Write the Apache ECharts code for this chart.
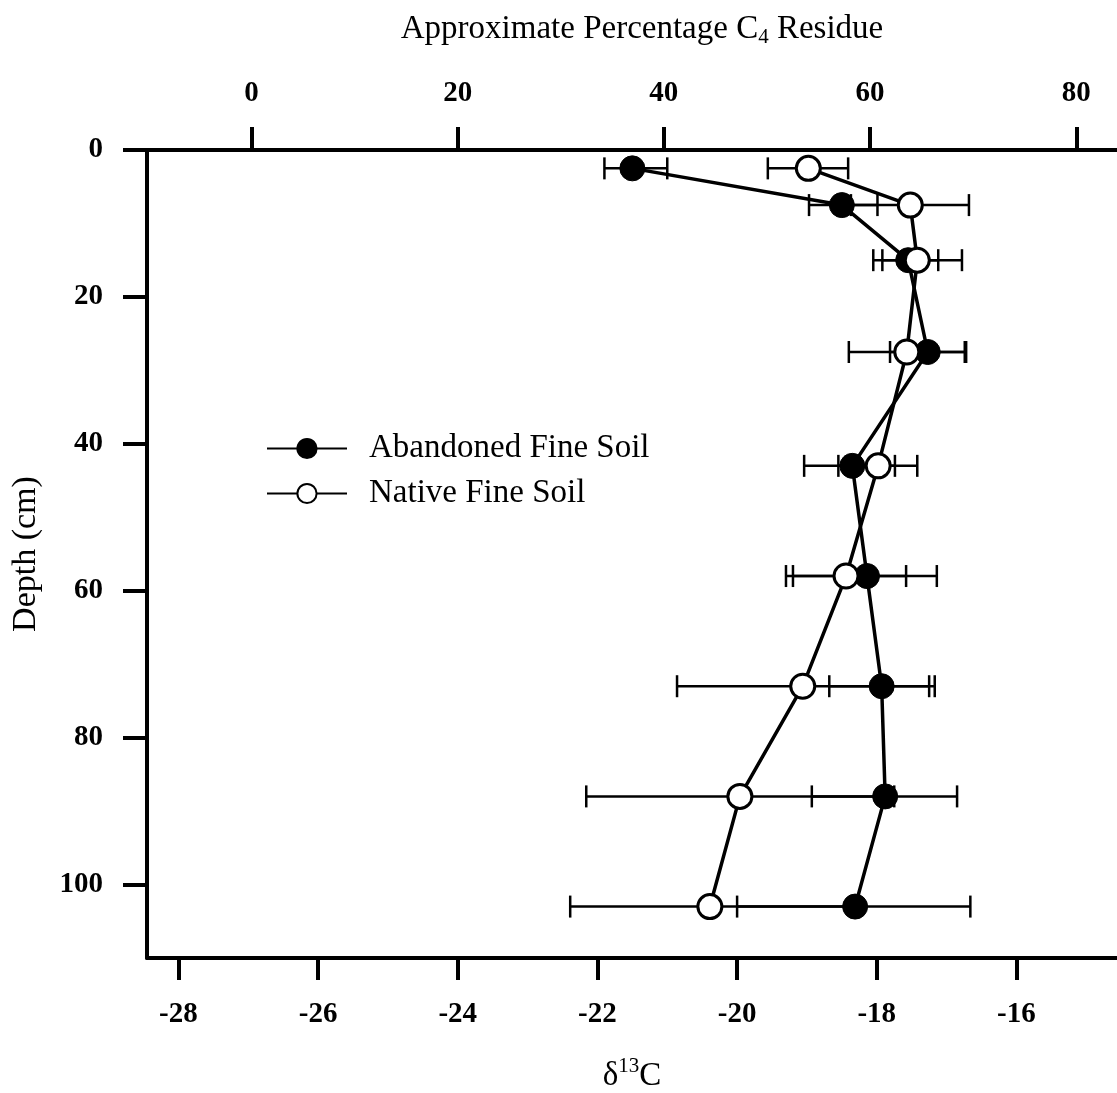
<!DOCTYPE html>
<html>
<head>
<meta charset="utf-8">
<script src="https://cdn.jsdelivr.net/npm/echarts@6/dist/echarts.min.js"></script>
<style>
html,body{margin:0;padding:0;background:#fff;}
#chart{width:1117px;height:1093px;}
</style>
</head>
<body>
<div id="chart"></div>
<script>
// ---- data ----
const depthCm = [2.5, 7.5, 15, 27.5, 43, 58, 73, 88, 103];

const abandonedD13C = [-21.50, -18.50, -17.55, -17.27, -18.35, -18.14, -17.93, -17.88, -18.31];
const abandonedLow  = [-21.90, -18.97, -17.92, -17.81, -19.04, -19.20, -18.68, -18.93, -20.00];
const abandonedHigh = [-21.00, -17.99, -17.12, -16.72, -17.74, -17.14, -17.17, -16.85, -16.66];

const nativeD13C = [-18.98, -17.52, -17.42, -17.57, -17.98, -18.44, -19.06, -19.96, -20.39];
const nativeLow  = [-19.56, -18.37, -18.05, -18.40, -18.55, -19.30, -20.86, -22.16, -22.39];
const nativeHigh = [-18.41, -16.68, -16.78, -16.74, -17.42, -17.58, -17.25, -17.75, -18.38];

const d13cTicks = [-28, -26, -24, -22, -20, -18, -16];
const pctTicks = [0, 20, 40, 60, 80];
const depthTicks = [0, 20, 40, 60, 80, 100];

const seriesNames = ['Abandoned Fine Soil', 'Native Fine Soil'];

// ---- build ----
const FONT = '"Liberation Serif", "DejaVu Serif", serif';
const pairs = (xs) => xs.map((v, i) => [v, depthCm[i]]);
const errRows = (lo, hi) => lo.map((v, i) => [depthCm[i], v, hi[i]]);

function errorBarItem(params, api) {
  const y = api.value(0);
  const p1 = api.coord([api.value(1), y]);
  const p2 = api.coord([api.value(2), y]);
  const h = 11;
  const st = { stroke: '#000', lineWidth: 2.5 };
  return {
    type: 'group',
    children: [
      { type: 'line', shape: { x1: p1[0], y1: p1[1], x2: p2[0], y2: p2[1] }, style: st },
      { type: 'line', shape: { x1: p1[0], y1: p1[1] - h, x2: p1[0], y2: p1[1] + h }, style: st },
      { type: 'line', shape: { x1: p2[0], y1: p2[1] - h, x2: p2[0], y2: p2[1] + h }, style: st }
    ]
  };
}

const chart = echarts.init(document.getElementById('chart'), null, { renderer: 'canvas' });

const axisLineStyle = { color: '#000', width: 4 };

const option = {
  backgroundColor: '#fff',
  animation: false,
  textStyle: { fontFamily: FONT, color: '#000' },
  grid: { left: 147, right: 0, top: 150, bottom: 135, containLabel: false, outerBoundsMode: 'none' },
  legend: {
    orient: 'vertical',
    left: 266,
    top: 432,
    padding: 0,
    itemWidth: 80,
    itemHeight: 24,
    itemGap: 12,
    data: seriesNames,
    textStyle: { fontFamily: FONT, fontSize: 33, color: '#000', padding: [0, 0, 0, 17] }
  },
  xAxis: [
    {
      type: 'value',
      position: 'bottom',
      min: -28.45,
      max: -14.56,
      name: '{a|δ}{s|13}{a|C}',
      nameLocation: 'middle',
      nameGap: 98,
      nameTextStyle: {
        padding: [0, 0, 0, 0],
        rich: {
          a: { fontFamily: FONT, fontSize: 33, lineHeight: 40, color: '#000' },
          s: { fontFamily: FONT, fontSize: 21, lineHeight: 16, verticalAlign: 'top', color: '#000' }
        }
      },
      axisLine: { show: true, onZero: false, lineStyle: axisLineStyle },
      axisTick: { show: true, inside: false, length: 22, lineStyle: { color: '#000', width: 4 }, customValues: d13cTicks },
      axisLabel: { show: true, margin: 42, fontFamily: FONT, fontSize: 29, fontWeight: 'bold', color: '#000', customValues: d13cTicks },
      splitLine: { show: false }
    },
    {
      type: 'value',
      position: 'top',
      min: -10.13,
      max: 83.95,
      name: '{a|Approximate Percentage C}{s|4}{a| Residue}',
      nameLocation: 'middle',
      nameGap: 102,
      nameTextStyle: {
        padding: [0, 0, 0, 20],
        rich: {
          a: { fontFamily: FONT, fontSize: 33, lineHeight: 38, color: '#000' },
          s: { fontFamily: FONT, fontSize: 21, lineHeight: 16, verticalAlign: 'bottom', color: '#000' }
        }
      },
      axisLine: { show: true, onZero: false, lineStyle: axisLineStyle },
      axisTick: { show: true, inside: false, length: 23, lineStyle: { color: '#000', width: 4 }, customValues: pctTicks },
      axisLabel: { show: true, margin: 42, fontFamily: FONT, fontSize: 29, fontWeight: 'bold', color: '#000', customValues: pctTicks },
      splitLine: { show: false }
    }
  ],
  yAxis: {
    type: 'value',
    inverse: true,
    min: 0,
    max: 110,
    name: 'Depth (cm)',
    nameLocation: 'middle',
    nameGap: 104,
    nameTextStyle: { fontFamily: FONT, fontSize: 34, color: '#000' },
    axisLine: { show: true, onZero: false, lineStyle: axisLineStyle },
    axisTick: { show: true, inside: false, length: 24, lineStyle: { color: '#000', width: 4 }, customValues: depthTicks },
    axisLabel: { show: true, margin: 44, fontFamily: FONT, fontSize: 29, fontWeight: 'bold', color: '#000', customValues: depthTicks },
    splitLine: { show: false }
  },
  series: [
    {
      name: 'errAbandoned',
      type: 'custom',
      xAxisIndex: 0,
      renderItem: errorBarItem,
      encode: { x: [1, 2], y: 0 },
      data: errRows(abandonedLow, abandonedHigh),
      z: 1,
      silent: true
    },
    {
      name: 'errNative',
      type: 'custom',
      xAxisIndex: 0,
      renderItem: errorBarItem,
      encode: { x: [1, 2], y: 0 },
      data: errRows(nativeLow, nativeHigh),
      z: 1,
      silent: true
    },
    {
      name: seriesNames[0],
      type: 'line',
      xAxisIndex: 0,
      data: pairs(abandonedD13C),
      symbol: 'circle',
      symbolSize: 25,
      lineStyle: { color: '#000', width: 3.5 },
      itemStyle: { color: '#000', borderColor: '#000', borderWidth: 1 },
      z: 3
    },
    {
      name: seriesNames[1],
      type: 'line',
      xAxisIndex: 0,
      data: pairs(nativeD13C),
      symbol: 'circle',
      symbolSize: 24,
      lineStyle: { color: '#000', width: 3.5 },
      itemStyle: { color: '#fff', borderColor: '#000', borderWidth: 3 },
      z: 4
    }
  ]
};

chart.setOption(option);
</script>
</body>
</html>
